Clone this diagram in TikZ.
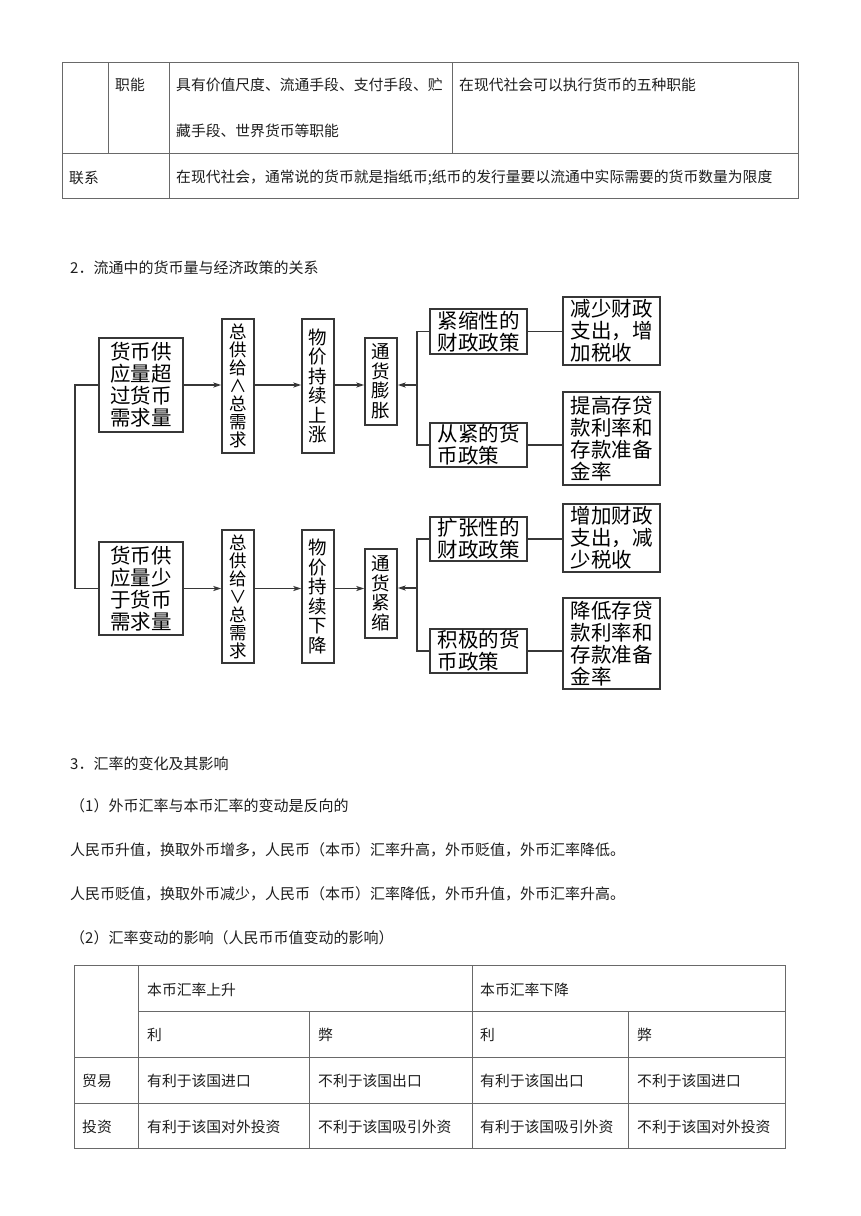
\documentclass[tikz,border=0pt]{standalone}
\usepackage{fontspec}
\usetikzlibrary{arrows.meta}
\newfontfamily\cjk{Noto Sans CJK SC}

\begin{document}
\begin{tikzpicture}[
    x=1pt, y=-1pt,
    txt/.style={anchor=west, inner sep=0pt, text=c_text, font=\cjk\fontsize{15}{18}\selectfont},
    cell/.style={txt, font=\cjk\fontsize{14.8}{18}\selectfont},
    box/.style={draw=c_line, line width=1.4pt, inner sep=0pt, minimum width=97pt, align=left, font=\cjk\fontsize{20.5}{22}\selectfont},
    vbox/.style={draw=c_line, line width=1.4pt, inner sep=0pt, minimum width=32pt, minimum height=134pt, align=center, font=\cjk\fontsize{17.5}{18}\selectfont},
    vwide/.style={font=\cjk\fontsize{18.5}{19.5}\selectfont},
    tline/.style={draw=c_grid, line width=1pt},
    link/.style={draw=c_line, line width=1.4pt},
    arr/.style={link, -{Stealth[length=8pt, width=5pt, inset=2pt]}}
]

    % 颜色
    \definecolor{c_text}{RGB}{30, 30, 30}
    \definecolor{c_line}{RGB}{55, 55, 55}
    \definecolor{c_grid}{RGB}{105, 105, 105}

    \fill[white] (0,0) rectangle (860,1216);
    \useasboundingbox (0,0) rectangle (860,1216);

    % 表格一（职能、联系）
    \draw[tline] (62,62) rectangle (798,198);
    \draw[tline] (62,153) -- (798,153);
    \draw[tline] (108,62) -- (108,153);
    \draw[tline] (169,62) -- (169,198);
    \draw[tline] (452,62) -- (452,153);

    \node[cell] (zn)  at (115,85)  {职能};
    \node[cell] (zn1) at (176,85)  {具有价值尺度、流通手段、支付手段、贮};
    \node[cell] (zn2) at (176,131) {藏手段、世界货币等职能};
    \node[cell] (zn3) at (459,85)  {在现代社会可以执行货币的五种职能};
    \node[cell] (lx)  at (69,178)  {联系};
    \node[cell] (lx1) at (176,178) {在现代社会，通常说的货币就是指纸币;纸币的发行量要以流通中实际需要的货币数量为限度};

    % 标题 2
    \node[txt] (s2) at (70,268) {2．流通中的货币量与经济政策的关系};

    % 上半：通货膨胀
    \node[box, minimum width=84pt, minimum height=94pt] (src1) at (141,385) {货币供\\应量超\\过货币\\需求量};
    \node[vbox] (ag1)  at (238,386) {总\\供\\给\\∧\\总\\需\\求};
    \node[vbox, vwide] (pr1)  at (318,386) {物\\价\\持\\续\\上\\涨};
    \node[vbox, vwide, minimum height=87pt] (inf1) at (381,381.5) {通\\货\\膨\\胀};
    \node[box, minimum height=45pt] (fis1) at (478.5,331.5) {紧缩性的\\财政政策};
    \node[box, minimum height=68pt] (fm1)  at (611.5,331)   {减少财政\\支出，增\\加税收};
    \node[box, minimum height=44pt] (mon1) at (478.5,445)   {从紧的货\\币政策};
    \node[box, minimum height=93pt] (mm1)  at (611.5,438.5) {提高存贷\\款利率和\\存款准备\\金率};

    % 下半：通货紧缩
    \node[box, minimum width=84pt, minimum height=93pt] (src2) at (141,588.5) {货币供\\应量少\\于货币\\需求量};
    \node[vbox, minimum height=133pt] (ag2) at (238,596.5) {总\\供\\给\\∨\\总\\需\\求};
    \node[vbox, vwide, minimum height=133pt] (pr2) at (318,596.5) {物\\价\\持\\续\\下\\降};
    \node[vbox, vwide, minimum height=89pt] (def2) at (381,593.5) {通\\货\\紧\\缩};
    \node[box, minimum height=44pt] (fis2) at (478.5,539)   {扩张性的\\财政政策};
    \node[box, minimum height=68pt] (fm2)  at (611.5,538)   {增加财政\\支出，减\\少税收};
    \node[box, minimum height=44pt] (mon2) at (478.5,651)   {积极的货\\币政策};
    \node[box, minimum height=91pt] (mm2)  at (611.5,643.5) {降低存贷\\款利率和\\存款准备\\金率};

    % 连线
    \coordinate (jl)  at (75,385);
    \coordinate (jr1) at (417,385);
    \coordinate (jr2) at (417,588);

    \draw[link] (src1.west) -- (jl) |- (src2.west);

    \draw[arr] (src1.east) -- (src1.east -| ag1.west);
    \draw[arr] (src1.east -| ag1.east) -- (src1.east -| pr1.west);
    \draw[arr] (src1.east -| pr1.east) -- (src1.east -| inf1.west);
    \draw[arr] (jr1) -- (jr1 -| inf1.east);
    \draw[link] (fis1.west) -| (jr1) |- (mon1.west);
    \draw[link] (fis1.east) -- (fis1.east -| fm1.west);
    \draw[link] (mon1.east) -- (mon1.east -| mm1.west);

    \draw[arr] (src2.east) -- (src2.east -| ag2.west);
    \draw[arr] (src2.east -| ag2.east) -- (src2.east -| pr2.west);
    \draw[arr] (src2.east -| pr2.east) -- (src2.east -| def2.west);
    \draw[arr] (jr2) -- (jr2 -| def2.east);
    \draw[link] (fis2.west) -| (jr2) |- (mon2.west);
    \draw[link] (fis2.east) -- (fis2.east -| fm2.west);
    \draw[link] (mon2.east) -- (mon2.east -| mm2.west);

    % 标题 3 及正文
    \node[txt] (s3)  at (70,764) {3．汇率的变化及其影响};
    \node[txt] (s31) at (70,806) {（1）外币汇率与本币汇率的变动是反向的};
    \node[txt] (s32) at (70,850) {人民币升值，换取外币增多，人民币（本币）汇率升高，外币贬值，外币汇率降低。};
    \node[txt] (s33) at (70,894) {人民币贬值，换取外币减少，人民币（本币）汇率降低，外币升值，外币汇率升高。};
    \node[txt] (s34) at (70,938) {（2）汇率变动的影响（人民币币值变动的影响）};

    % 表格二（汇率变动的影响）
    \draw[tline] (74,965) rectangle (785,1148);
    \draw[tline] (138,1011) -- (785,1011);
    \draw[tline] (74,1057) -- (785,1057);
    \draw[tline] (74,1103) -- (785,1103);
    \draw[tline] (138,965) -- (138,1148);
    \draw[tline] (472,965) -- (472,1148);
    \draw[tline] (309,1011) -- (309,1148);
    \draw[tline] (628,1011) -- (628,1148);

    \node[cell] (up)   at (147,990) {本币汇率上升};
    \node[cell] (down) at (480,990) {本币汇率下降};
    \node[cell] (my)   at (82,1081) {贸易};
    \node[cell] (tz)   at (82,1127) {投资};

    \foreach \x/\lab [count=\i] in {147/利, 318/弊, 480/利, 637/弊} {
        \node[cell] (lb\i) at (\x,1035) {\lab};
    }
    \foreach \x/\lab [count=\i] in {147/有利于该国进口, 318/不利于该国出口, 480/有利于该国出口, 637/不利于该国进口} {
        \node[cell] (my\i) at (\x,1081) {\lab};
    }
    \foreach \x/\lab [count=\i] in {147/有利于该国对外投资, 318/不利于该国吸引外资, 480/有利于该国吸引外资, 637/不利于该国对外投资} {
        \node[cell] (tz\i) at (\x,1127) {\lab};
    }

\end{tikzpicture}
\end{document}
